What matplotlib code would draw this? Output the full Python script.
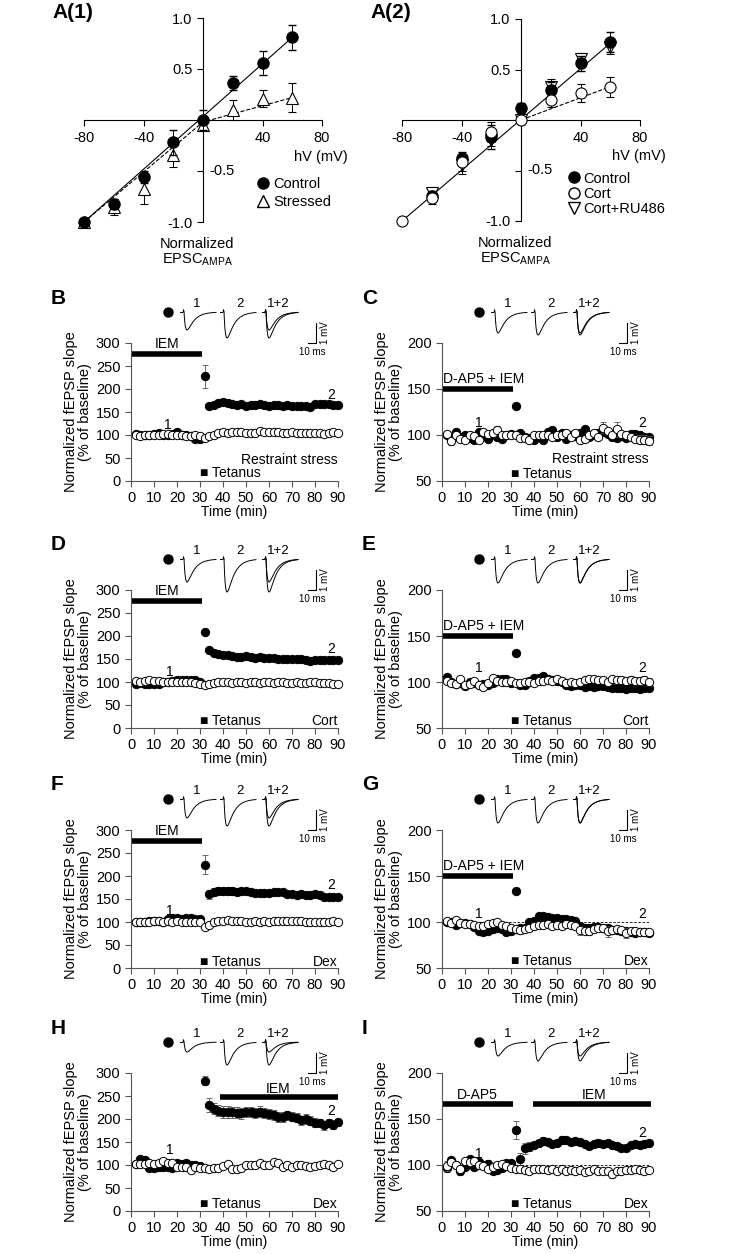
import numpy as np
import matplotlib.pyplot as plt
from matplotlib.lines import Line2D

plt.rcParams['font.family'] = ['Liberation Sans', 'DejaVu Sans']
plt.rcParams['mathtext.fontset'] = 'custom'
plt.rcParams['mathtext.rm'] = 'Liberation Sans'
plt.rcParams['axes.unicode_minus'] = False

# ---------------- I-V data (panels A) ----------------
hv = [-80, -60, -40, -20, 0, 20, 40, 60]

a1_control = [-1.0, -0.82, -0.56, -0.22, 0.0, 0.36, 0.56, 0.81]
a1_control_err = [0.0, 0.05, 0.06, 0.12, 0.10, 0.07, 0.12, 0.12]
a1_stressed = [-1.0, -0.85, -0.68, -0.34, -0.05, 0.10, 0.21, 0.22]
a1_stressed_err = [0.0, 0.08, 0.14, 0.12, 0.05, 0.10, 0.08, 0.14]
a1_fit_x = [-80, 60]
a1_fit_control = [-1.0, 0.81]
a1_fit_stressed_x = [-80, 0, 60]
a1_fit_stressed = [-1.0, -0.02, 0.22]

a2_hv = [-60, -40, -20, 0, 20, 40, 60]
a2_control = [-0.75, -0.38, -0.17, 0.12, 0.30, 0.56, 0.77]
a2_control_err = [0.05, 0.06, 0.12, 0.05, 0.08, 0.07, 0.10]
a2_cort = [-1.0, -0.77, -0.42, -0.12, 0.0, 0.20, 0.27, 0.33]
a2_cort_err = [0.0, 0.06, 0.08, 0.10, 0.04, 0.07, 0.09, 0.10]
a2_ru486 = [-0.72, -0.45, -0.20, 0.0, 0.33, 0.60, 0.72]
a2_ru486_err = [0.05, 0.08, 0.06, 0.04, 0.08, 0.06, 0.07]
a2_fit_x = [-80, 60]
a2_fit_control = [-1.0, 0.76]
a2_fit_cort_x = [0, 60]
a2_fit_cort = [0.0, 0.33]

# ---------------- time course data (panels B-I) ----------------
time_min = [2, 4, 6, 8, 10, 12, 14, 16, 18, 20, 22, 24, 26, 28, 30, 32,
            34, 36, 38, 40, 42, 44, 46, 48, 50, 52, 54, 56, 58, 60, 62,
            64, 66, 68, 70, 72, 74, 76, 78, 80, 82, 84, 86, 88, 90]

b_filled = [103, 100, 101, 101, 102, 105, 101, 101, 102, 107, 100, 99, 97, 92, 92, 228,
            162, 165, 170, 172, 170, 168, 165, 168, 163, 165, 165, 168, 166, 163, 165,
            165, 163, 165, 163, 164, 162, 163, 160, 167, 168, 168, 168, 165, 166]
b_open = [100, 97, 100, 101, 101, 101, 102, 102, 101, 101, 100, 98, 97, 100, 98, 93,
          97, 101, 104, 106, 105, 106, 107, 107, 105, 104, 105, 108, 107, 106, 106,
          106, 105, 105, 106, 105, 105, 105, 104, 105, 104, 103, 104, 106, 105]
c_filled = [100, 96, 103, 98, 100, 97, 95, 103, 100, 96, 101, 98, 96, 100, 101, 131,
            102, 98, 97, 95, 98, 95, 103, 105, 98, 102, 96, 100, 99, 102, 106,
            98, 100, 102, 103, 101, 98, 97, 99, 97, 101, 101, 100, 98, 98]
c_open = [101, 93, 100, 96, 95, 100, 99, 95, 103, 101, 102, 105, 100, 100, 100, 100,
          97, 97, 95, 100, 100, 100, 100, 98, 100, 100, 102, 98, 102, 95, 96,
          100, 102, 98, 108, 104, 100, 106, 101, 100, 98, 96, 95, 95, 94]
d_filled = [96, 97, 95, 96, 95, 96, 100, 100, 103, 104, 104, 105, 104, 104, 100, 208,
            170, 163, 160, 158, 158, 156, 155, 155, 157, 155, 153, 155, 153, 152, 152,
            150, 151, 151, 150, 150, 150, 148, 146, 147, 148, 147, 147, 148, 148]
d_open = [102, 100, 103, 104, 103, 102, 100, 101, 100, 100, 99, 100, 99, 98, 96, 93,
          95, 97, 100, 99, 99, 98, 99, 99, 98, 99, 99, 98, 99, 99, 98,
          99, 99, 98, 98, 99, 98, 98, 99, 99, 98, 97, 97, 96, 95]
e_filled = [105, 100, 98, 99, 96, 100, 99, 97, 98, 97, 99, 103, 103, 103, 99, 131,
            97, 97, 101, 104, 104, 107, 103, 102, 101, 100, 97, 96, 97, 97, 95,
            96, 95, 96, 96, 95, 94, 93, 93, 92, 93, 93, 92, 94, 93]
e_open = [101, 99, 98, 103, 97, 98, 101, 97, 95, 99, 104, 101, 100, 100, 101, 99,
          99, 100, 100, 99, 101, 101, 102, 101, 103, 101, 99, 100, 99, 100, 102,
          103, 103, 102, 102, 100, 103, 102, 102, 101, 102, 101, 101, 102, 100]
f_filled = [100, 100, 100, 102, 103, 103, 100, 107, 108, 108, 107, 108, 108, 107, 106, 225,
            160, 165, 167, 168, 168, 168, 166, 167, 168, 165, 163, 163, 162, 163, 165,
            165, 165, 160, 160, 158, 160, 158, 158, 160, 158, 155, 155, 155, 155]
f_open = [99, 99, 100, 101, 102, 102, 101, 102, 101, 102, 101, 99, 100, 101, 100, 90,
          94, 100, 103, 103, 104, 103, 102, 102, 101, 101, 102, 101, 102, 101, 102,
          103, 102, 103, 103, 102, 102, 100, 101, 100, 100, 101, 101, 102, 101]
g_filled = [100, 100, 97, 99, 99, 98, 95, 90, 89, 90, 92, 93, 92, 89, 90, 134,
            94, 93, 100, 101, 106, 107, 105, 104, 104, 103, 103, 102, 101, 96, 94,
            94, 95, 95, 94, 93, 91, 91, 90, 90, 89, 88, 89, 89, 88]
g_open = [101, 99, 102, 99, 98, 98, 97, 96, 96, 98, 99, 100, 97, 96, 94, 92,
          91, 92, 94, 96, 97, 97, 98, 96, 97, 96, 98, 97, 96, 91, 90,
          90, 92, 94, 93, 90, 91, 92, 91, 88, 90, 90, 89, 89, 89]
h_filled = [102, 112, 110, 93, 93, 95, 96, 95, 93, 105, 103, 104, 101, 99, 98, 283,
            230, 222, 218, 216, 215, 215, 214, 213, 216, 216, 214, 216, 213, 210, 208,
            205, 204, 208, 205, 203, 197, 200, 196, 192, 191, 186, 191, 188, 193]
h_open = [102, 103, 103, 104, 103, 105, 108, 104, 104, 96, 95, 96, 90, 96, 94, 93,
          92, 93, 93, 97, 102, 92, 91, 94, 100, 101, 101, 104, 101, 101, 107,
          104, 95, 101, 96, 101, 101, 98, 96, 98, 100, 103, 99, 96, 102]
i_filled = [97, 105, 100, 94, 98, 107, 98, 103, 100, 101, 93, 95, 97, 102, 102, 138,
            106, 118, 120, 122, 124, 126, 125, 123, 124, 127, 127, 125, 126, 125, 123,
            121, 123, 124, 123, 124, 122, 121, 119, 118, 122, 123, 122, 123, 124]
i_open = [99, 103, 100, 96, 104, 103, 104, 100, 99, 96, 98, 100, 101, 99, 97, 96,
          96, 95, 94, 96, 96, 96, 95, 96, 94, 96, 94, 95, 93, 95, 92,
          94, 96, 94, 94, 93, 90, 94, 93, 95, 95, 96, 95, 94, 95]

# visible error bars (time -> SEM)
b_err_filled = {32: 25}
c_err_open = {4: 4, 24: 5, 34: 3, 70: 6, 76: 8, 84: 4, 86: 5, 88: 5, 90: 5}
e_err_open = {74: 4, 78: 4, 82: 4, 86: 4, 88: 4, 90: 4}
f_err_filled = {32: 20, 34: 9, 36: 9, 38: 9, 40: 9, 42: 9, 44: 9, 46: 8, 48: 8}
g_err_open = {34: 4, 40: 4, 60: 5, 64: 4, 72: 6, 80: 5, 86: 4}
h_err_filled = {32: 10, 34: 15, 36: 12, 38: 12, 40: 13, 42: 13, 44: 12, 46: 12, 48: 12,
                50: 11, 52: 11, 54: 11, 56: 12, 58: 11, 60: 11, 62: 11, 64: 11, 66: 11,
                68: 10, 70: 10, 72: 10, 74: 10, 76: 10, 78: 10, 80: 10, 82: 9, 84: 9,
                86: 9, 88: 9, 90: 8}
h_err_open = {68: 6, 72: 6, 80: 6}
i_err_filled = {2: 5, 8: 5, 20: 4, 32: 10, 34: 7, 36: 6, 38: 5, 44: 4, 52: 4, 68: 4, 86: 4}
i_err_open = {2: 5, 74: 4}

# waveform trough depths (trace 1, trace 2) for the insets
trace_depths = {'B': (18, 26), 'C': (21, 23), 'D': (23, 33), 'E': (24, 24),
                'F': (19, 27), 'G': (24, 24), 'H': (10, 23), 'I': (14, 19)}

W, H = 746, 1254
fig = plt.figure(figsize=(W / 100, H / 100), dpi=100)


def px_axes(l, t, w, h):
    return fig.add_axes([l / W, 1 - (t + h) / H, w / W, h / H])


def iv_panel(ax):
    ax.set_xlim(-80, 80)
    ax.set_ylim(-1, 1)
    for s in ['top', 'right']:
        ax.spines[s].set_visible(False)
    ax.spines['left'].set_position('zero')
    ax.spines['bottom'].set_position('zero')
    ax.set_xticks([-80, -40, 40, 80])
    ax.set_yticks([-1.0, -0.5, 0.5, 1.0])
    ax.set_yticklabels(['-1.0', '', '0.5', '1.0'])
    ax.tick_params(direction='out', length=4, width=0.8, labelsize=10.5)
    ax.tick_params(axis='x', pad=4)
    ax.text(4, -0.5, '-0.5', fontsize=10.5, va='center', ha='left')
    ax.text(97, -0.36, 'hV (mV)', fontsize=10.5, ha='right', va='center')
    ax.text(-4, -1.22, 'Normalized', fontsize=10.5, ha='center', va='center')
    ax.text(-4, -1.37, r'EPSC$_{\mathrm{AMPA}}$', fontsize=10.5, ha='center', va='center')
    ax.patch.set_alpha(0)


# ---------------- A(1) ----------------
ax = px_axes(84, 18, 238, 204)
iv_panel(ax)
ax.plot(a1_fit_x, a1_fit_control, '-', color='k', lw=0.8)
ax.plot(a1_fit_stressed_x, a1_fit_stressed, '--', color='k', lw=0.8)
ax.errorbar(hv, a1_stressed, yerr=a1_stressed_err, fmt='^', ms=8, mfc='white', mec='k',
            mew=0.8, ecolor='k', elinewidth=0.7, capsize=3, clip_on=False, zorder=3)
ax.errorbar(hv, a1_control, yerr=a1_control_err, fmt='o', ms=8, mfc='k', mec='k',
            ecolor='k', elinewidth=0.7, capsize=3, clip_on=False, zorder=4)
h1 = [Line2D([], [], ls='', marker='o', ms=8, mfc='k', mec='k'),
      Line2D([], [], ls='', marker='^', ms=8, mfc='white', mec='k')]
ax.legend(h1, ['Control', 'Stressed'], loc='upper left', bbox_to_anchor=(0.72, 0.22),
          frameon=False, fontsize=10.5, handletextpad=0.2, handlelength=1.0,
          labelspacing=0.25, borderaxespad=0, borderpad=0)
fig.text(52 / W, 1 - 13 / H, 'A(1)', fontsize=15, fontweight='bold', va='center')

# ---------------- A(2) ----------------
ax = px_axes(402, 19, 238, 202)
iv_panel(ax)
ax.plot(a2_fit_x, a2_fit_control, '-', color='k', lw=0.8)
ax.plot(a2_fit_cort_x, a2_fit_cort, '--', color='k', lw=0.8)
ax.errorbar(a2_hv, a2_ru486, yerr=a2_ru486_err, fmt='v', ms=8, mfc='white', mec='k',
            mew=0.8, ecolor='k', elinewidth=0.7, capsize=3, clip_on=False, zorder=3)
ax.errorbar(a2_hv, a2_control, yerr=a2_control_err, fmt='o', ms=8, mfc='k', mec='k',
            ecolor='k', elinewidth=0.7, capsize=3, clip_on=False, zorder=4)
ax.errorbar(hv, a2_cort, yerr=a2_cort_err, fmt='o', ms=8, mfc='white', mec='k',
            mew=0.8, ecolor='k', elinewidth=0.7, capsize=3, clip_on=False, zorder=5)
h2 = [Line2D([], [], ls='', marker='o', ms=8, mfc='k', mec='k'),
      Line2D([], [], ls='', marker='o', ms=8, mfc='white', mec='k'),
      Line2D([], [], ls='', marker='v', ms=8, mfc='white', mec='k')]
ax.legend(h2, ['Control', 'Cort', 'Cort+RU486'], loc='upper left',
          bbox_to_anchor=(0.69, 0.245), frameon=False, fontsize=10.5, handletextpad=0.2,
          handlelength=1.0, labelspacing=0.1, borderaxespad=0, borderpad=0)
fig.text(370 / W, 1 - 13 / H, 'A(2)', fontsize=15, fontweight='bold', va='center')


# ---------------- trace insets ----------------
def wave(ax, x0, depth, base=14, length=36):
    ax.plot([x0, x0 + 2], [base, base], color='k', lw=0.7)
    ax.plot([x0 + 3, x0 + 3.6, x0 + 4], [base, base - 2.5, base], color='k', lw=0.6)
    x = np.linspace(0, length - 4, 200)
    shape = np.exp(-x / 7.0) - np.exp(-x / 1.6)
    shape = shape / shape.max()
    ax.plot(x0 + 4 + x, base + depth * shape, color='k', lw=0.7)


def traces(left, top, depths):
    ax = px_axes(left + 30, top - 45, 185, 60)
    ax.set_xlim(0, 185)
    ax.set_ylim(60, 0)
    ax.axis('off')
    d1, d2 = depths
    ax.plot(7, 14, 'o', color='k', ms=6.5)
    wave(ax, 19, d1)
    wave(ax, 59, d2)
    wave(ax, 101, d1)
    wave(ax, 101, d2)
    for x, s in [(36, '1'), (79, '2'), (117, '1+2')]:
        ax.text(x, 6, s, fontsize=9.5, ha='center', va='center')
    ax.plot([147, 155, 155], [45, 45, 25], color='k', lw=0.8)
    ax.text(164, 35, '1 mV', fontsize=7, rotation=90, ha='center', va='center')
    ax.text(151, 54, '10 ms', fontsize=7, ha='center', va='center')


# ---------------- time course panels ----------------
def time_panel(left, top, letter, filled, opn, ylim, yticks, err_f=None, err_o=None):
    ax = px_axes(left, top, 207, 138)
    ax.set_xlim(0, 90)
    ax.set_ylim(*ylim)
    ax.set_xticks(range(0, 100, 10))
    ax.set_yticks(yticks)
    for s in ['top', 'right']:
        ax.spines[s].set_visible(False)
    for s in ['left', 'bottom']:
        ax.spines[s].set_color('#555555')
        ax.spines[s].set_linewidth(0.8)
    ax.tick_params(direction='out', length=4, width=0.8, color='#555555', labelsize=10.5)
    ax.set_ylabel('Normalized fEPSP slope\n(% of baseline)', fontsize=10.5, linespacing=1.0,
                  labelpad=3)
    ax.set_xlabel('Time (min)', fontsize=10, labelpad=0)
    ax.patch.set_alpha(0)
    for vals, errs, face, z in [(filled, err_f, 'k', 3), (opn, err_o, 'white', 4)]:
        if errs:
            tx = list(errs.keys())
            ty = [vals[time_min.index(t)] for t in tx]
            ax.errorbar(tx, ty, yerr=list(errs.values()), fmt='none', ecolor='#555555',
                        elinewidth=0.6, capsize=2, capthick=0.6, clip_on=False, zorder=z)
        ax.plot(time_min, vals, 'o', ls='', ms=6, mfc=face, mec='k', mew=0.7,
                clip_on=False, zorder=z)
    fig.text((left - 80) / W, 1 - (top - 45) / H, letter, fontsize=15,
             fontweight='bold', va='center')
    traces(left, top, trace_depths[letter])
    return ax


def label(ax, x, y, s, **kw):
    ax.text(x, y, s, fontsize=10, ha=kw.get('ha', 'center'), va='center')


def bar(ax, x0, x1, y):
    ax.plot([x0, x1], [y, y], color='k', lw=4, solid_capstyle='butt', clip_on=False)


LX, RX = 131, 442
tops = [343, 590, 830, 1073]
big = ((0, 300), range(0, 301, 50))
small = ((50, 200), range(50, 201, 50))

# B
ax = time_panel(LX, tops[0], 'B', b_filled, b_open, *big, err_f=b_err_filled)
bar(ax, 0, 31, 277)
label(ax, 15.5, 297, 'IEM')
label(ax, 16, 122, '1')
label(ax, 87, 186, '2')
label(ax, 90, 46, 'Restraint stress', ha='right')
label(ax, 30, 18, '■ Tetanus', ha='left')

# C
ax = time_panel(RX, tops[0], 'C', c_filled, c_open, *small, err_o=c_err_open)
bar(ax, 0, 31, 150)
label(ax, 0.5, 161, 'D-AP5 + IEM', ha='left')
label(ax, 16, 113, '1')
label(ax, 87, 113, '2')
label(ax, 90, 74, 'Restraint stress', ha='right')
label(ax, 30, 58, '■ Tetanus', ha='left')

# D
ax = time_panel(LX, tops[1], 'D', d_filled, d_open, *big)
bar(ax, 0, 31, 277)
label(ax, 15.5, 297, 'IEM')
label(ax, 17, 122, '1')
label(ax, 87, 172, '2')
label(ax, 90, 15, 'Cort', ha='right')
label(ax, 30, 15, '■ Tetanus', ha='left')

# E
ax = time_panel(RX, tops[1], 'E', e_filled, e_open, *small, err_o=e_err_open)
bar(ax, 0, 31, 150)
label(ax, 0.5, 161, 'D-AP5 + IEM', ha='left')
label(ax, 16, 115, '1')
label(ax, 87, 115, '2')
label(ax, 90, 58, 'Cort', ha='right')
label(ax, 30, 58, '■ Tetanus', ha='left')

# F
ax = time_panel(LX, tops[2], 'F', f_filled, f_open, *big, err_f=f_err_filled)
bar(ax, 0, 31, 277)
label(ax, 15.5, 297, 'IEM')
label(ax, 17, 124, '1')
label(ax, 87, 180, '2')
label(ax, 90, 12, 'Dex', ha='right')
label(ax, 30, 12, '■ Tetanus', ha='left')

# G
ax = time_panel(RX, tops[2], 'G', g_filled, g_open, *small, err_o=g_err_open)
ax.axhline(100, color='k', lw=0.6, ls=(0, (3, 2)), zorder=1)
bar(ax, 0, 31, 150)
label(ax, 0.5, 161, 'D-AP5 + IEM', ha='left')
label(ax, 16, 109, '1')
label(ax, 87, 109, '2')
label(ax, 90, 58, 'Dex', ha='right')
label(ax, 30, 58, '■ Tetanus', ha='left')

# H
ax = time_panel(LX, tops[3], 'H', h_filled, h_open, *big, err_f=h_err_filled,
                err_o=h_err_open)
bar(ax, 38.5, 90, 247)
label(ax, 64, 265, 'IEM')
label(ax, 17, 132, '1')
label(ax, 87, 217, '2')
label(ax, 90, 15, 'Dex', ha='right')
label(ax, 30, 15, '■ Tetanus', ha='left')

# I
ax = time_panel(RX, tops[3], 'I', i_filled, i_open, *small, err_f=i_err_filled,
                err_o=i_err_open)
ax.axhline(100, color='k', lw=0.6, ls=(0, (3, 2)), zorder=1)
bar(ax, 0, 31, 166)
bar(ax, 39.5, 91, 166)
label(ax, 15.5, 176, 'D-AP5')
label(ax, 66, 176, 'IEM')
label(ax, 16, 112, '1')
label(ax, 87, 135, '2')
label(ax, 90, 58, 'Dex', ha='right')
label(ax, 30, 58, '■ Tetanus', ha='left')

fig.savefig('out.png', dpi=100)
